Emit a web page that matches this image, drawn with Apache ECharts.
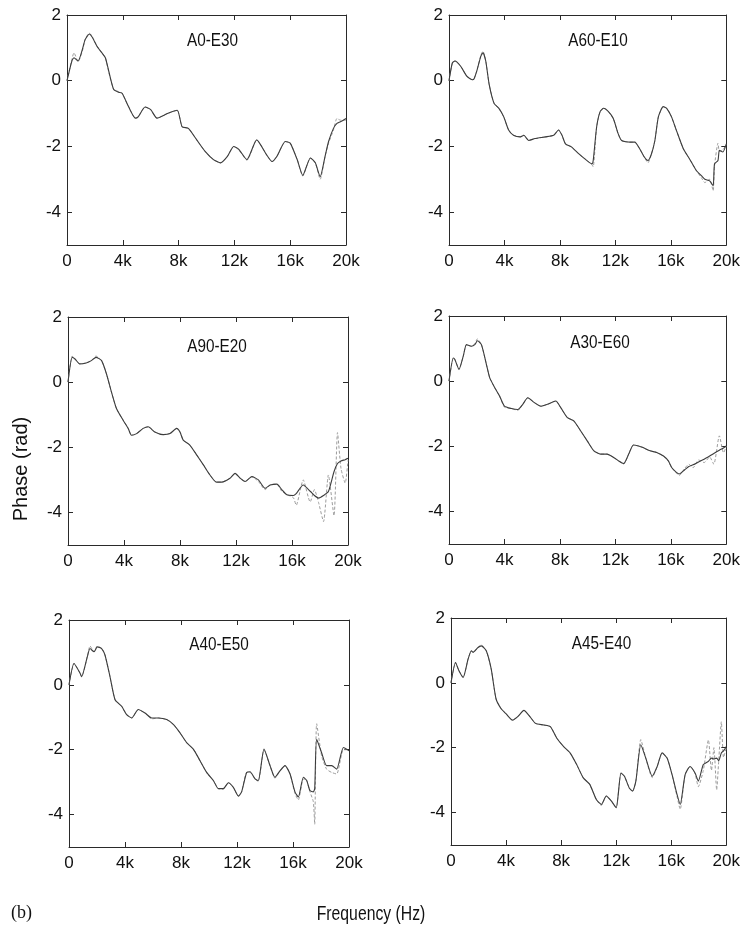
<!DOCTYPE html>
<html><head><meta charset="utf-8">
<script src="https://cdn.jsdelivr.net/npm/echarts@6.0.0/dist/echarts.min.js"></script>
<style>html,body{margin:0;padding:0;background:#fff}#c{width:743px;height:934px}</style>
</head><body><div id="c"></div>
<script>
// ---- tick values / labels ----
const xTicks = [0, 4, 8, 12, 16, 20];            // kHz
const xTickLabels = ['0', '4k', '8k', '12k', '16k', '20k'];
const yTicks = [2, 0, -2, -4];
const panelNames = ['A0-E30', 'A60-E10', 'A90-E20', 'A30-E60', 'A40-E50', 'A45-E40'];

// ---- A0-E30 ----
const p1Freq = [0,0.35,0.5,0.8,1.1,1.3,1.6,1.8,2.15,2.5,2.75,3.0,3.35,3.7,3.95,4.4,4.9,5.1,5.6,6.0,6.45,7.2,7.9,8.25,8.7,9.3,9.9,10.5,11.0,11.5,11.95,12.3,12.9,13.6,14.3,14.7,15.05,15.65,16.0,16.5,16.9,17.45,17.8,18.15,18.5,18.75,19.1,19.35,19.6,20];
const p1Dark = [0,0.6,0.7,0.6,0.95,1.25,1.42,1.33,1.05,0.85,0.7,0.28,-0.27,-0.35,-0.38,-0.78,-1.14,-1.1,-0.8,-0.88,-1.14,-1.0,-0.9,-1.4,-1.45,-1.8,-2.15,-2.4,-2.5,-2.3,-2.0,-2.08,-2.4,-1.8,-2.25,-2.46,-2.3,-1.85,-1.9,-2.4,-2.88,-2.35,-2.5,-2.92,-2.3,-1.85,-1.45,-1.3,-1.25,-1.15];
const p1Light = [0,0.65,0.85,0.58,0.9,1.25,1.45,1.35,1.05,0.85,0.7,0.25,-0.27,-0.33,-0.38,-0.78,-1.14,-1.1,-0.8,-0.88,-1.14,-1.0,-0.9,-1.4,-1.45,-1.8,-2.15,-2.4,-2.5,-2.3,-2.0,-2.1,-2.42,-1.8,-2.25,-2.46,-2.3,-1.85,-1.9,-2.4,-2.9,-2.35,-2.5,-3.0,-2.3,-1.9,-1.5,-1.15,-1.2,-1.2];

// ---- A60-E10 ----
const p2Freq = [0,0.24,0.43,0.84,1.3,1.7,1.8,2.0,2.3,2.45,2.65,2.9,3.25,3.6,3.95,4.3,4.65,5.15,5.4,5.75,6.2,6.95,7.55,7.9,8.15,8.4,8.85,9.35,9.8,10.3,10.4,10.65,10.9,11.15,11.5,11.85,12.2,12.45,13.05,13.4,13.75,14.1,14.35,14.6,14.85,15.1,15.45,15.7,16.05,16.4,16.9,17.35,17.85,18.2,18.45,18.8,19.05,19.15,19.4,19.5,19.75,20];
const p2Dark = [0,0.54,0.6,0.44,0.13,0.03,0.05,0.29,0.75,0.85,0.6,-0.12,-0.69,-0.84,-1.1,-1.5,-1.66,-1.71,-1.66,-1.82,-1.76,-1.71,-1.66,-1.5,-1.66,-1.92,-2.02,-2.22,-2.38,-2.53,-2.43,-1.4,-0.94,-0.84,-0.94,-1.15,-1.61,-1.82,-1.87,-1.87,-2.07,-2.33,-2.43,-2.23,-1.82,-1.1,-0.79,-0.84,-1.1,-1.51,-2.07,-2.38,-2.74,-2.89,-3.0,-3.05,-3.2,-2.53,-2.43,-2.12,-2.17,-1.92];
const p2Light = [0,0.54,0.6,0.44,0.13,0.03,0.05,0.29,0.78,0.9,0.6,-0.12,-0.69,-0.84,-1.1,-1.5,-1.66,-1.71,-1.66,-1.82,-1.76,-1.71,-1.66,-1.5,-1.66,-1.92,-2.02,-2.22,-2.38,-2.55,-2.62,-1.4,-0.94,-0.84,-0.94,-1.15,-1.61,-1.82,-1.87,-1.87,-2.07,-2.33,-2.5,-2.23,-1.82,-1.1,-0.79,-0.84,-1.1,-1.51,-2.07,-2.38,-2.74,-2.95,-3.1,-3.0,-3.35,-2.6,-1.9,-2.15,-2.1,-1.95];

// ---- A90-E20 ----
const p3Freq = [0,0.3,0.5,0.84,1.3,1.67,2.0,2.4,2.75,3.1,3.46,3.94,4.3,4.53,4.9,5.37,5.73,6.2,6.8,7.28,7.76,8.0,8.23,8.7,9.2,9.67,10.14,10.6,10.98,11.57,11.93,12.3,12.65,13.13,13.6,14.08,14.44,14.92,15.27,15.63,16.1,16.3,16.8,17.3,17.6,17.9,18.25,18.6,19.0,19.25,19.5,19.8,20];
const p3Dark = [0,0.76,0.71,0.56,0.59,0.66,0.76,0.66,0.25,-0.3,-0.81,-1.17,-1.42,-1.63,-1.58,-1.42,-1.37,-1.53,-1.61,-1.58,-1.42,-1.53,-1.78,-1.93,-2.24,-2.54,-2.85,-3.07,-3.07,-2.95,-2.8,-2.95,-3.05,-2.9,-3.0,-3.26,-3.16,-3.13,-3.3,-3.46,-3.48,-3.42,-3.16,-3.35,-3.48,-3.56,-3.48,-3.36,-2.75,-2.5,-2.42,-2.38,-2.34];
const p3Light = [0,0.8,0.71,0.56,0.59,0.66,0.8,0.66,0.25,-0.3,-0.81,-1.17,-1.42,-1.63,-1.58,-1.42,-1.37,-1.53,-1.61,-1.58,-1.42,-1.53,-1.78,-1.93,-2.24,-2.54,-2.85,-3.07,-3.07,-2.95,-2.8,-2.95,-3.05,-2.9,-3.05,-3.3,-3.16,-3.13,-3.35,-3.45,-3.55,-3.78,-3.0,-3.68,-3.3,-3.7,-4.28,-2.85,-4.1,-1.55,-2.65,-3.1,-2.4];

// ---- A30-E60 ----
const p4Freq = [0,0.31,0.43,0.72,1.03,1.26,1.62,1.86,2.05,2.34,2.7,2.94,3.3,3.65,4.0,4.5,4.96,5.32,5.68,6.16,6.63,7.1,7.7,8.07,8.54,9.0,9.5,9.98,10.45,10.93,11.4,11.9,12.24,12.6,12.96,13.3,13.67,14.0,14.5,14.98,15.47,15.82,16.06,16.4,16.6,17.0,17.3,17.6,18.0,18.4,18.8,19.1,19.5,19.8,20];
const p4Dark = [0,0.71,0.66,0.36,0.77,1.12,1.07,1.12,1.24,1.12,0.51,0.1,-0.2,-0.46,-0.77,-0.84,-0.87,-0.71,-0.51,-0.66,-0.77,-0.71,-0.61,-0.82,-1.12,-1.22,-1.53,-1.84,-2.14,-2.24,-2.24,-2.35,-2.45,-2.53,-2.24,-1.96,-1.99,-2.04,-2.14,-2.19,-2.3,-2.45,-2.65,-2.8,-2.85,-2.72,-2.62,-2.57,-2.48,-2.4,-2.3,-2.22,-2.12,-2.05,-1.99];
const p4Light = [0,0.71,0.66,0.36,0.77,1.12,1.07,1.15,1.3,1.12,0.51,0.1,-0.2,-0.46,-0.8,-0.84,-0.9,-0.71,-0.51,-0.66,-0.77,-0.71,-0.61,-0.82,-1.12,-1.22,-1.53,-1.84,-2.14,-2.24,-2.24,-2.35,-2.45,-2.55,-2.24,-1.96,-1.99,-2.04,-2.14,-2.19,-2.3,-2.45,-2.65,-2.82,-2.9,-2.68,-2.55,-2.66,-2.42,-2.5,-2.33,-2.55,-1.68,-2.2,-2.0];

// ---- A40-E50 ----
const p5Freq = [0,0.36,0.79,0.9,1.31,1.5,1.79,2.02,2.33,2.57,2.93,3.29,3.76,4.12,4.48,4.95,5.43,5.9,6.38,6.98,7.45,7.93,8.4,8.88,9.36,9.83,10.31,10.67,11.02,11.38,11.74,12.1,12.33,12.69,12.93,13.29,13.52,13.93,14.36,14.71,15.07,15.43,15.79,16.14,16.38,16.74,16.98,17.21,17.45,17.55,17.69,18.05,18.4,18.76,19.12,19.6,20];
const p5Dark = [0,0.66,0.36,0.25,0.87,1.12,1.02,1.17,1.12,0.92,0.25,-0.46,-0.66,-0.92,-1.02,-0.76,-0.87,-1.02,-1.02,-1.07,-1.22,-1.48,-1.78,-1.98,-2.34,-2.7,-2.95,-3.2,-3.2,-3.02,-3.16,-3.43,-3.3,-2.7,-2.68,-2.9,-2.95,-1.98,-2.49,-2.85,-2.65,-2.49,-2.75,-3.3,-3.46,-2.85,-2.95,-3.26,-3.3,-3.2,-1.68,-2.1,-2.49,-2.49,-2.6,-1.93,-2.03];
const p5Light = [0,0.66,0.36,0.25,0.87,1.2,1.02,1.2,1.12,0.92,0.25,-0.46,-0.66,-0.92,-1.02,-0.76,-0.87,-1.05,-1.02,-1.07,-1.22,-1.48,-1.78,-1.98,-2.34,-2.7,-2.95,-3.2,-3.22,-3.02,-3.16,-3.43,-3.3,-2.7,-2.7,-2.9,-2.98,-2.0,-2.49,-2.88,-2.65,-2.49,-2.75,-3.35,-3.55,-2.9,-2.95,-3.3,-3.6,-4.3,-1.2,-2.2,-2.6,-2.7,-2.75,-2.0,-2.0];

// ---- A45-E40 ----
const p6Freq = [0,0.33,0.57,0.88,1.24,1.48,1.6,1.96,2.2,2.56,2.92,3.27,3.63,3.99,4.47,4.83,5.3,5.66,6.14,6.74,7.22,7.69,8.17,8.65,9.13,9.61,10.08,10.56,10.92,11.28,11.64,12.0,12.35,12.6,12.95,13.19,13.43,13.79,14.15,14.62,14.98,15.34,15.7,16.06,16.42,16.65,17.01,17.37,17.73,17.97,18.33,18.7,18.92,19.1,19.3,19.45,19.64,19.8,20];
const p6Dark = [0,0.63,0.38,0.17,0.73,0.99,0.94,1.09,1.14,0.99,0.43,-0.49,-0.79,-0.95,-1.15,-1.05,-0.85,-1.0,-1.25,-1.3,-1.35,-1.71,-1.96,-2.16,-2.52,-2.93,-3.13,-3.6,-3.75,-3.49,-3.64,-3.85,-2.78,-2.88,-3.24,-3.34,-3.03,-1.91,-2.32,-2.88,-2.58,-2.16,-2.32,-2.83,-3.44,-3.75,-2.83,-2.58,-2.78,-3.03,-2.52,-2.42,-2.32,-2.35,-2.32,-2.4,-2.16,-2.1,-1.96];
const p6Light = [0,0.63,0.38,0.17,0.73,0.99,0.94,1.09,1.17,0.99,0.43,-0.49,-0.79,-0.95,-1.15,-1.05,-0.85,-1.0,-1.25,-1.3,-1.35,-1.71,-1.96,-2.16,-2.52,-2.93,-3.13,-3.6,-3.78,-3.49,-3.64,-3.85,-2.78,-2.88,-3.24,-3.34,-3.03,-1.75,-2.32,-2.92,-2.58,-2.16,-2.32,-2.83,-3.5,-3.9,-2.83,-2.58,-2.8,-3.2,-2.7,-1.76,-2.7,-2.0,-3.3,-2.4,-1.2,-2.3,-2.0];

const panels = [
  {freq: p1Freq, dark: p1Dark, light: p1Light},
  {freq: p2Freq, dark: p2Dark, light: p2Light},
  {freq: p3Freq, dark: p3Dark, light: p3Light},
  {freq: p4Freq, dark: p4Dark, light: p4Light},
  {freq: p5Freq, dark: p5Dark, light: p5Light},
  {freq: p6Freq, dark: p6Dark, light: p6Light}
];

// ---- layout (pixels) ----
const gridBoxes = [
  {left: 67,  top: 15,  width: 279, height: 230},
  {left: 449, top: 15,  width: 278, height: 230},
  {left: 68,  top: 317, width: 280, height: 228},
  {left: 449, top: 316, width: 280, height: 228},
  {left: 69,  top: 620, width: 280, height: 227},
  {left: 451, top: 618, width: 279, height: 227}
];
const titleOffsets = [[6, 26], [10, 26], [9, 30], [11, 27], [10, 25], [11, 26]];

const SANS = '"Liberation Sans", Arial, sans-serif';
const AXC = '#2a2a2a';

function zip(f, v) { const n = Math.min(f.length, v.length); const out = []; for (let i = 0; i < n; i++) out.push([f[i], v[i]]); return out; }

const grid = [], xAxis = [], yAxis = [], series = [], graphic = [];
gridBoxes.forEach((g, i) => {
  grid.push({left: g.left, top: g.top, width: g.width, height: g.height, containLabel: false});
  const tickStyle = {show: true, inside: true, length: 5, lineStyle: {color: AXC, width: 1}};
  const lineStyle = {show: true, onZero: false, lineStyle: {color: AXC, width: 1}};
  xAxis.push({type: 'value', gridIndex: i, min: 0, max: 20, interval: 4, position: 'bottom',
    axisLine: lineStyle, axisTick: tickStyle, splitLine: {show: false},
    axisLabel: {show: true, margin: 8, fontSize: 17, fontFamily: SANS, color: '#111',
      formatter: v => { const k = xTicks.indexOf(v); return k >= 0 ? xTickLabels[k] : ''; }}});
  xAxis.push({type: 'value', gridIndex: i, min: 0, max: 20, interval: 4, position: 'top',
    axisLine: lineStyle, axisTick: tickStyle, splitLine: {show: false}, axisLabel: {show: false}});
  yAxis.push({type: 'value', gridIndex: i, min: -5, max: 2, position: 'left',
    axisLine: lineStyle, axisTick: Object.assign({customValues: yTicks}, tickStyle), splitLine: {show: false},
    axisLabel: {show: true, customValues: yTicks, margin: 6, fontSize: 17, fontFamily: SANS, color: '#111'}});
  yAxis.push({type: 'value', gridIndex: i, min: -5, max: 2, position: 'right',
    axisLine: lineStyle, axisTick: Object.assign({customValues: yTicks}, tickStyle), splitLine: {show: false},
    axisLabel: {show: false}});
  const p = panels[i];
  series.push({type: 'line', xAxisIndex: 2 * i, yAxisIndex: 2 * i, data: zip(p.freq, p.light),
    showSymbol: false, smooth: 0.2, silent: true,
    lineStyle: {color: '#9c9c9c', width: 1, type: [3, 2]}});
  series.push({type: 'line', xAxisIndex: 2 * i, yAxisIndex: 2 * i, data: zip(p.freq, p.dark),
    showSymbol: false, smooth: 0.2, silent: true,
    lineStyle: {color: '#3c3c3c', width: 1.1}});
  graphic.push({type: 'text', x: g.left + g.width / 2 + titleOffsets[i][0], y: g.top + titleOffsets[i][1],
    scaleX: 0.85,
    style: {text: panelNames[i], fontSize: 18, fontFamily: SANS, fill: '#111', align: 'center', verticalAlign: 'middle'}});
});

graphic.push({type: 'text', x: 21, y: 469, rotation: Math.PI / 2,
  style: {text: 'Phase (rad)', fontSize: 20, fontFamily: SANS, fill: '#111', align: 'center', verticalAlign: 'middle'}});
graphic.push({type: 'text', x: 371, y: 914, scaleX: 0.75,
  style: {text: 'Frequency (Hz)', fontSize: 21, fontFamily: SANS, fill: '#111', align: 'center', verticalAlign: 'middle'}});
graphic.push({type: 'text', x: 11, y: 913,
  style: {text: '(b)', fontSize: 18, fontFamily: '"Liberation Serif", "Times New Roman", serif', fill: '#111', align: 'left', verticalAlign: 'middle'}});

const chart = echarts.init(document.getElementById('c'), null, {renderer: 'canvas'});
chart.setOption({animation: false, backgroundColor: '#fff', grid, xAxis, yAxis, series, graphic});
</script>
</body></html>
